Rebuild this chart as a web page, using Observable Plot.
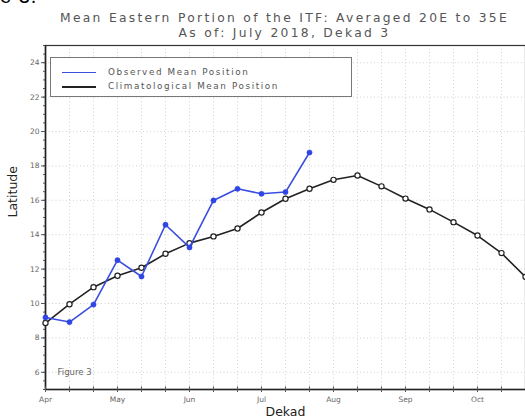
<!DOCTYPE html>
<html>
<head>
<meta charset="utf-8">
<script src="https://cdn.jsdelivr.net/npm/d3@7"></script>
<script src="https://cdn.jsdelivr.net/npm/@observablehq/plot@0.6"></script>
<style>
  body { margin: 0; background: #fff; width: 525px; height: 420px; overflow: hidden; position: relative; font-family: "DejaVu Sans", sans-serif; }
  #frag { position: absolute; left: 0; top: -14px; font: 20px "Liberation Sans", Arial, sans-serif; color: #000; line-height: 20px; letter-spacing: 1px; }
  #title { height: 40px; text-align: center; color: #555; font-size: 12.3px; letter-spacing: 2.3px; line-height: 15px; padding-top: 11px; box-sizing: border-box; padding-left: 44px; white-space: nowrap; }
  #legend { position: absolute; left: 50px; top: 57px; width: 302px; height: 40px; border: 1px solid #777; box-sizing: border-box; background: #fff; }
  .ln { position: absolute; left: 11px; width: 34px; }
  .tx { position: absolute; left: 57px; white-space: nowrap; font-size: 8.8px; letter-spacing: 1.6px; color: #555; line-height: 10px; }
</style>
</head>
<body>
<div id="frag">e 3.</div>
<div id="title">Mean Eastern Portion of the ITF: Averaged 20E to 35E<br>As of: July 2018, Dekad 3</div>
<div id="chart"></div>
<div id="legend">
  <div class="ln" style="top:14px;height:1.3px;background:#3a4ee0"></div>
  <div class="tx" style="top:9px">Observed Mean Position</div>
  <div class="ln" style="top:28px;height:1.6px;background:#222"></div>
  <div class="tx" style="top:23px">Climatological Mean Position</div>
</div>
<script>
const months = ["Apr", "May", "Jun", "Jul", "Aug", "Sep", "Oct"];
const observed = [9.19, 8.92, 9.94, 12.52, 11.57, 14.58, 13.26, 15.99, 16.67, 16.38, 16.48, 18.78];
const climatology = [8.86, 9.96, 10.95, 11.61, 12.08, 12.89, 13.51, 13.90, 14.36, 15.29, 16.09, 16.67, 17.19, 17.44, 16.81, 16.10, 15.47, 14.73, 13.95, 12.93, 11.55];
const yTicks = [6, 8, 10, 12, 14, 16, 18, 20, 22, 24];

const obs = observed.map((v, i) => ({i, v}));
const clim = climatology.map((v, i) => ({i, v}));
const dekads = d3.range(0, 21);
const gridX = d3.range(1, 21);

const chart = Plot.plot({
  width: 525,
  height: 380,
  marginLeft: 45,
  marginRight: 0,
  marginTop: 5,
  marginBottom: 31,
  style: {fontFamily: "DejaVu Sans, sans-serif", background: "white", overflow: "hidden"},
  x: {domain: [0, 20], label: null},
  y: {domain: [5, 25], label: null},
  marks: [
    Plot.ruleX(gridX, {stroke: "#c8c8c8", strokeDasharray: "1,2.5", strokeWidth: 0.8}),
    Plot.ruleY(yTicks, {stroke: "#c8c8c8", strokeDasharray: "1,2.5", strokeWidth: 0.8}),
    Plot.frame({stroke: "#333", strokeWidth: 1.2}),
    Plot.ruleX([0], {stroke: "#222", strokeWidth: 1.6}),
    Plot.ruleY([5], {stroke: "#222", strokeWidth: 1.6}),
    Plot.axisY(d3.range(5, 25.01, 0.5), {tickSize: 2, tickFormat: () => "", stroke: "#555", label: null}),
    Plot.axisY(yTicks, {tickSize: 4, tickPadding: 2, fontSize: 7.5, fill: "#666", stroke: "#555", label: null}),
    Plot.axisX(dekads, {tickSize: 3, tickPadding: 4, fontSize: 7.5, fill: "#666", stroke: "#555",
      tickFormat: d => d % 3 === 0 ? months[d / 3] : "", label: null}),
    Plot.ruleX(dekads, {y1: 5, y2: 5.15, stroke: "#555"}),
    Plot.text(["Dekad"], {frameAnchor: "bottom", dy: 26, fontSize: 12.5, fill: "#222", letterSpacing: 0.5}),
    Plot.text(["Latitude"], {frameAnchor: "left", dx: -33, rotate: -90, fontSize: 12.5, fill: "#222"}),
    Plot.text(["Figure 3"], {x: 0.5, y: 6, textAnchor: "start", fontSize: 8.5, fill: "#666", letterSpacing: 1.1}),
    Plot.line(clim, {x: "i", y: "v", stroke: "#222", strokeWidth: 1.6}),
    Plot.dot(clim, {x: "i", y: "v", r: 2.6, stroke: "#222", strokeWidth: 1.2, fill: "white"}),
    Plot.line(obs, {x: "i", y: "v", stroke: "#3a4ee0", strokeWidth: 1.6}),
    Plot.dot(obs, {x: "i", y: "v", r: 2.6, fill: "#2f45e6", stroke: "#2f45e6", strokeWidth: 0.5})
  ]
});
document.getElementById("chart").appendChild(chart);
</script>
</body>
</html>
